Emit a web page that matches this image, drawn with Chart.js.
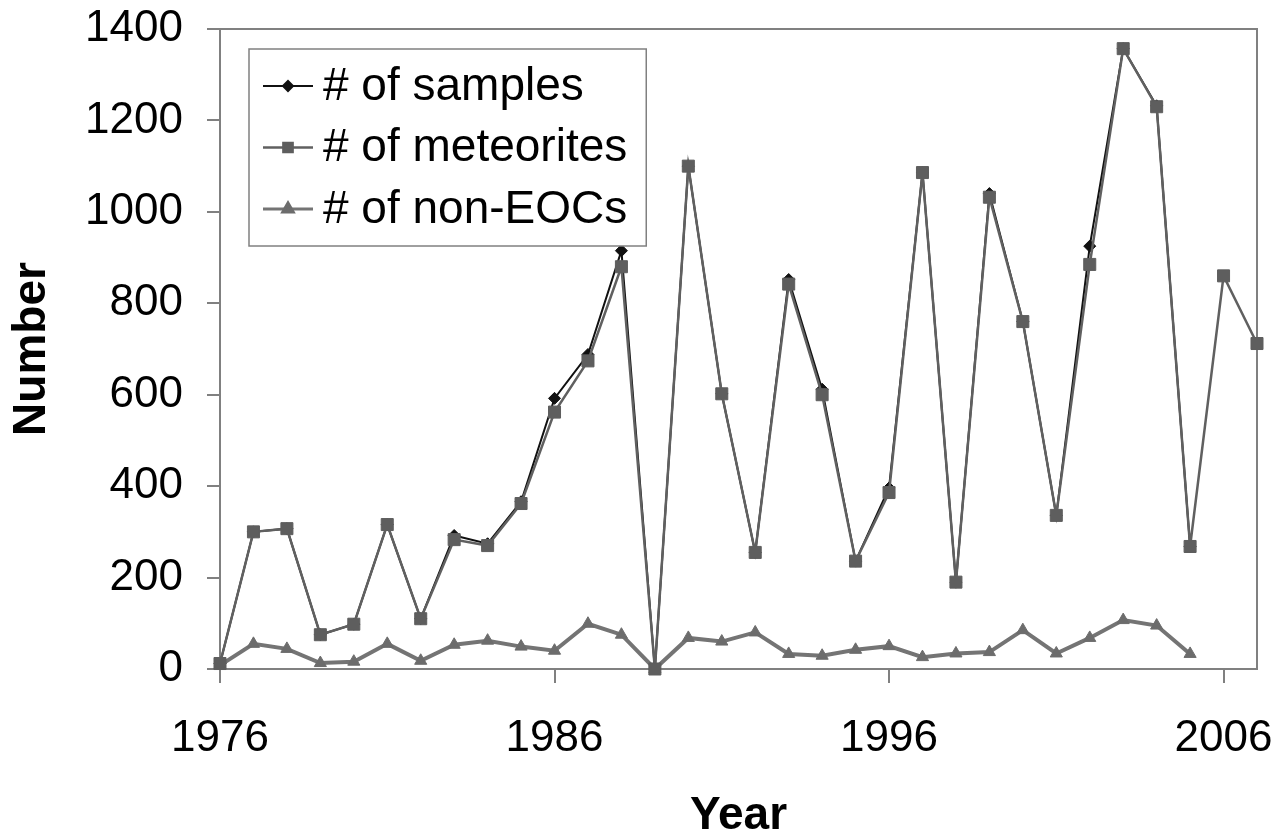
<!DOCTYPE html>
<html>
<head>
<meta charset="utf-8">
<script src="https://cdn.jsdelivr.net/npm/chart.js@4.4.0/dist/chart.umd.min.js"></script>
<style>
html,body{margin:0;padding:0;background:#fff;}
#wrap{width:1286px;height:834px;position:relative;}
</style>
</head>
<body>
<div id="wrap"><canvas id="c"></canvas></div>
<script>
// ---- data ----
const years = [1976,1977,1978,1979,1980,1981,1982,1983,1984,1985,1986,1987,1988,1989,1990,1991,1992,1993,1994,1995,1996,1997,1998,1999,2000,2001,2002,2003,2004,2005,2006,2007];
const samples    = [12,300,307,75,98,316,110,292,274,366,592,688,915,0,1100,602,255,852,612,236,396,1086,190,1040,760,336,925,1357,1232,268,null,null];
const meteorites = [12,300,307,75,98,316,110,283,270,362,562,674,880,0,1100,602,255,842,600,236,386,1086,190,1032,760,336,885,1357,1230,268,860,712];
const nonEOCs    = [8,55,44,13,16,55,18,53,62,49,40,99,75,0,68,60,80,33,29,42,50,26,34,37,85,34,68,107,95,33,null,null];
const seriesLabels = ['# of samples','# of meteorites','# of non-EOCs'];
const xTickYears = [1976,1986,1996,2006];
const yTicksMin = 0, yTicksMax = 1400, yTicksStep = 200;
const xTitle = 'Year', yTitle = 'Number';

const FAMILY = '"Liberation Sans", Arial, sans-serif';
const AXIS_GRAY = '#808080';

function toPoints(vals){ return years.map((y,i)=>({x:y, y:vals[i]})); }

const plotBorder = {
  id:'plotBorder',
  beforeDatasetsDraw(chart){
    const {ctx, chartArea:a} = chart;
    ctx.save();
    ctx.strokeStyle = AXIS_GRAY; ctx.lineWidth = 2;
    ctx.strokeRect(a.left, a.top, a.right-a.left, a.bottom-a.top);
    ctx.restore();
  }
};

const boxLegend = {
  id:'boxLegend',
  afterDraw(chart){
    const {ctx, chartArea:a} = chart;
    const ds = chart.data.datasets;
    const left = a.left + 29, top = a.top + 20;
    const rowH = 61.5, firstRow = 37;
    const legendFont = '46px ' + FAMILY;
    ctx.save();
    ctx.font = legendFont;
    let maxW = 0;
    ds.forEach(d=>{ maxW = Math.max(maxW, ctx.measureText(d.label).width); });
    const textX = left + 74;
    const w = (textX - left) + maxW + 19;
    const h = firstRow*2 + rowH*(ds.length-1);
    ctx.fillStyle = '#fff';
    ctx.fillRect(left, top, w, h);
    ctx.strokeStyle = AXIS_GRAY; ctx.lineWidth = 1.5;
    ctx.strokeRect(left, top, w, h);
    const legendRadius = [5, 6.5, 6];
    ds.forEach((d,i)=>{
      const cy = top + firstRow + rowH*i;
      ctx.strokeStyle = d.borderColor;
      ctx.lineWidth = Math.min(d.borderWidth, 3);
      ctx.beginPath(); ctx.moveTo(left+14, cy); ctx.lineTo(left+64, cy); ctx.stroke();
      ctx.fillStyle = d.pointBackgroundColor;
      ctx.strokeStyle = d.pointBorderColor;
      Chart.helpers.drawPoint(ctx, {pointStyle:d.pointStyle, radius:legendRadius[i], rotation:0, borderWidth:1}, left+39, cy);
      ctx.fillStyle = '#000';
      ctx.textBaseline = 'middle'; ctx.textAlign = 'left';
      ctx.font = legendFont;
      ctx.fillText(d.label, textX, cy+1);
    });
    ctx.restore();
  }
};

new Chart(document.getElementById('c'), {
  type:'line',
  data:{
    datasets:[
      {label:seriesLabels[0], data:toPoints(samples), borderColor:'#111', borderWidth:2,
       pointStyle:'rectRot', pointRadius:6, pointBackgroundColor:'#111', pointBorderColor:'#111', pointBorderWidth:1,
       order:1, clip:false, spanGaps:false, tension:0},
      {label:seriesLabels[1], data:toPoints(meteorites), borderColor:'#606060', borderWidth:2.5,
       pointStyle:'rect', pointRadius:8.5, pointBackgroundColor:'#5e5e5e', pointBorderColor:'#5e5e5e', pointBorderWidth:1,
       order:0, clip:false, spanGaps:false, tension:0},
      {label:seriesLabels[2], data:toPoints(nonEOCs), borderColor:'#747474', borderWidth:4,
       pointStyle:'triangle', pointRadius:7, pointBackgroundColor:'#6c6c6c', pointBorderColor:'#6c6c6c', pointBorderWidth:1,
       order:2, clip:false, spanGaps:false, tension:0}
    ]
  },
  options:{
    responsive:true, maintainAspectRatio:false, animation:false,
    layout:{padding:{top:29, right:29, left:0, bottom:0}},
    plugins:{legend:{display:false}, tooltip:{enabled:false}},
    scales:{
      x:{
        type:'linear', position:'bottom', min:years[0], max:years[years.length-1],
        afterBuildTicks: s => { s.ticks = xTickYears.map(v=>({value:v})); },
        afterFit: s => { s.height = 165; s.paddingLeft = 0; s.paddingRight = 0; },
        ticks:{font:{size:44, family:FAMILY}, color:'#000', padding:29, maxRotation:0, autoSkip:false,
               callback: v => String(v)},
        grid:{drawOnChartArea:false, drawTicks:true, tickLength:14, color:AXIS_GRAY, lineWidth:2},
        border:{display:true, color:AXIS_GRAY, width:2},
        title:{display:true, text:xTitle, color:'#000', font:{size:46, weight:'bold', family:FAMILY, lineHeight:0.8},
               padding:{top:0, bottom:-1}}
      },
      y:{
        min:yTicksMin, max:yTicksMax,
        afterFit: s => { s.width = 220; s.paddingTop = 0; s.paddingBottom = 0; },
        ticks:{stepSize:yTicksStep, font:{size:44, family:FAMILY}, color:'#000', padding:24,
               callback: v => String(v)},
        grid:{drawOnChartArea:false, drawTicks:true, tickLength:13, color:AXIS_GRAY, lineWidth:2},
        border:{display:true, color:AXIS_GRAY, width:2},
        title:{display:true, text:yTitle, color:'#000', font:{size:46, weight:'bold', family:FAMILY, lineHeight:0.8},
               padding:{top:14, bottom:0}}
      }
    }
  },
  plugins:[plotBorder, boxLegend]
});
</script>
</body>
</html>
